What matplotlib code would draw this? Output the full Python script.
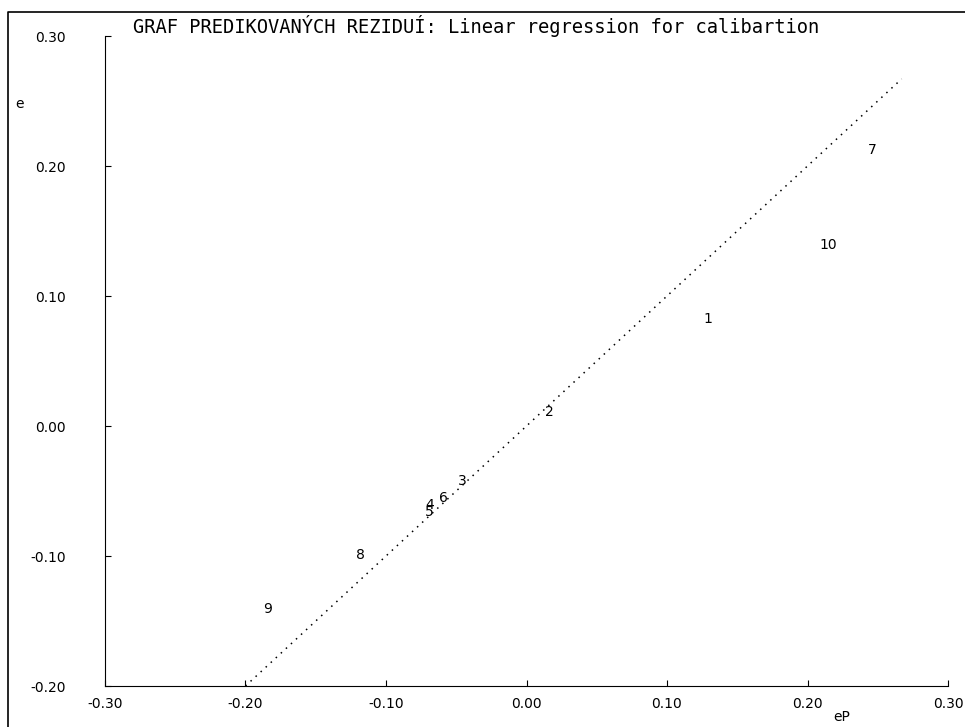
import matplotlib
matplotlib.use("Agg")
import matplotlib.pyplot as plt
from matplotlib.lines import Line2D

# predikovana rezidua eP vs. klasicka rezidua e
labels = ["1", "2", "3", "4", "5", "6", "7", "8", "9", "10"]
eP = [0.129, 0.016, -0.046, -0.069, -0.069, -0.059, 0.246, -0.118, -0.184, 0.215]
e = [0.082, 0.011, -0.042, -0.061, -0.066, -0.055, 0.212, -0.099, -0.141, 0.139]
line_x = [-0.20, 0.267]
ticks = [-0.30, -0.20, -0.10, 0.00, 0.10, 0.20, 0.30]
tick_labels = ["-0.30", "-0.20", "-0.10", "0.00", "0.10", "0.20", "0.30"]
y_ticks = [-0.20, -0.10, 0.00, 0.10, 0.20, 0.30]
y_tick_labels = ["-0.20", "-0.10", "0.00", "0.10", "0.20", "0.30"]
title = "GRAF PREDIKOVANÝCH REZIDUÍ: Linear regression for calibartion"

W, H = 965, 727
fig = plt.figure(figsize=(W / 100, H / 100), dpi=100)
ax = fig.add_axes([105 / W, 1 - 686 / H, (948 - 105) / W, (686 - 36) / H])

# cara y = x
ax.plot(line_x, line_x, color="black", lw=1.1, linestyle=(0, (1, 3.5)))

for lab, x, y in zip(labels, eP, e):
    ax.text(x, y, lab, ha="center", va="center", fontsize=10, color="black")

ax.set_xlim(-0.30, 0.30)
ax.set_ylim(-0.20, 0.30)
ax.set_xticks(ticks)
ax.set_xticklabels(tick_labels)
ax.set_yticks(y_ticks)
ax.set_yticklabels(y_tick_labels)
ax.spines["top"].set_visible(False)
ax.spines["right"].set_visible(False)
ax.tick_params(axis="x", direction="in", length=4.5, pad=8, labelsize=10)
ax.tick_params(axis="y", direction="in", length=4.5, pad=28, labelsize=10)

fig.text(19 / W, 1 - 104 / H, "e", ha="center", va="center", fontsize=10)
fig.text(842 / W, 1 - 717 / H, "eP", ha="center", va="center", fontsize=10)
fig.text(133 / W, 1 - 26 / H, title, ha="left", va="center",
         fontsize=13.5, family="DejaVu Sans Mono")

# vnejsi ramecek
fig.add_artist(Line2D([8 / W, 8 / W, 1.0], [0.0, 1 - 12 / H, 1 - 12 / H],
                      transform=fig.transFigure, color="black", lw=1.2))

fig.savefig("out.png", dpi=100)
